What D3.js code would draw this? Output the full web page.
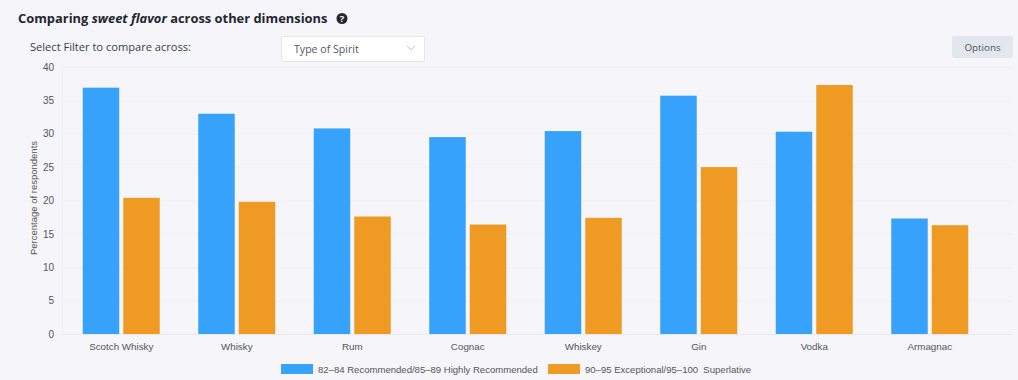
<!DOCTYPE html>
<html>
<head>
<meta charset="utf-8">
<script src="https://cdn.jsdelivr.net/npm/d3@7"></script>
<style>
    html, body { margin: 0; padding: 0; background: #f5f5fa; }
    svg { display: block; }
    .ui { font-family: "Open Sans", sans-serif; }
    .chart-text { font-family: "Liberation Sans", Arial, sans-serif; }
</style>
</head>
<body>
<svg id="svg1" width="1018" height="380"></svg>
<script>
const categories = ['Scotch Whisky', 'Whisky', 'Rum', 'Cognac', 'Whiskey', 'Gin', 'Vodka', 'Armagnac'];
const recommended = [36.9, 33.0, 30.8, 29.5, 30.4, 35.7, 30.3, 17.3];
const exceptional = [20.4, 19.8, 17.6, 16.4, 17.4, 25.0, 37.3, 16.3];
const yTicks = [0, 5, 10, 15, 20, 25, 30, 35, 40];
const seriesNames = ['82–84 Recommended/85–89 Highly Recommended', '90–95 Exceptional/95–100\u00a0 Superlative'];
const seriesColors = ['#36a2fb', '#ef9a22'];

const svg1 = d3.select('#svg1');

const margin = { top: 67, right: 6, bottom: 46, left: 62 };
const width = +svg1.attr('width');
const height = +svg1.attr('height');
const innerWidth = width - margin.left - margin.right;
const innerHeight = height - margin.top - margin.bottom;

const g = svg1.append('g')
    .attr('transform', `translate(${margin.left}, ${margin.top})`);

// the bands stop short of the right end of the grid lines
const x = d3.scaleBand()
    .domain(categories)
    .range([1.5, 925.5]);

const x1 = d3.scaleBand()
    .domain([0, 1])
    .range([x.bandwidth() / 2 - 38.5, x.bandwidth() / 2 + 38.5])
    .paddingInner(0.1);

const y = d3.scaleLinear()
    .domain([0, 40])
    .range([innerHeight, 0]);

// y axis + grid
const yAxis = g.append('g')
    .attr('class', 'chart-text')
    .call(d3.axisLeft(y).tickValues(yTicks).tickSize(-innerWidth).tickPadding(8));
yAxis.select('.domain').attr('stroke', '#f0f0f5').attr('d', `M0.5,0V${innerHeight}`);
yAxis.selectAll('.tick line').attr('stroke', d => d === 0 ? '#e8e9ee' : '#f0f0f5');
yAxis.selectAll('.tick text').attr('fill', '#555').attr('font-size', 10);

// x axis
const xAxis = g.append('g')
    .attr('class', 'chart-text')
    .attr('transform', `translate(0, ${innerHeight})`)
    .call(d3.axisBottom(x).tickSize(0).tickPadding(9));
xAxis.select('.domain').remove();
xAxis.selectAll('.tick text').attr('fill', '#555').attr('font-size', 9.8);

// bars
const groups = g.selectAll('.bar-group')
    .data(categories)
    .enter()
    .append('g')
    .attr('class', 'bar-group')
    .attr('transform', d => `translate(${x(d)}, 0)`);

[recommended, exceptional].forEach((values, s) => {
    groups.append('rect')
        .attr('x', x1(s))
        .attr('y', (d, i) => y(values[i]))
        .attr('width', x1.bandwidth())
        .attr('height', (d, i) => innerHeight - y(values[i]))
        .attr('fill', seriesColors[s]);
});

g.append('text')
    .attr('class', 'chart-text')
    .attr('transform', `translate(-25, ${innerHeight / 2 - 2.5}) rotate(-90)`)
    .attr('text-anchor', 'middle')
    .attr('font-size', 9.5)
    .attr('fill', '#555')
    .text('Percentage of respondents');

// legend
const legendX = [281, 548];
seriesNames.forEach((name, i) => {
    svg1.append('rect')
        .attr('x', legendX[i])
        .attr('y', 364)
        .attr('width', 32)
        .attr('height', 10)
        .attr('fill', seriesColors[i]);
    svg1.append('text')
        .attr('class', 'chart-text')
        .attr('x', legendX[i] + 37)
        .attr('y', 373)
        .attr('font-size', 9.55)
        .attr('fill', '#555')
        .text(name);
});

// header
const title = svg1.append('text')
    .attr('class', 'ui')
    .attr('x', 18)
    .attr('y', 23)
    .attr('font-size', 12.9)
    .attr('font-weight', 700)
    .attr('fill', '#23272e');
title.append('tspan').text('Comparing ');
title.append('tspan').attr('font-style', 'italic').text('sweet flavor');
title.append('tspan').text(' across other dimensions');

svg1.append('circle')
    .attr('cx', 342)
    .attr('cy', 18.5)
    .attr('r', 5.5)
    .attr('fill', '#23272e');
svg1.append('text')
    .attr('class', 'ui')
    .attr('x', 342)
    .attr('y', 22)
    .attr('text-anchor', 'middle')
    .attr('font-size', 9.5)
    .attr('font-weight', 700)
    .attr('fill', '#f5f5fa')
    .text('?');

svg1.append('text')
    .attr('class', 'ui')
    .attr('x', 30)
    .attr('y', 51)
    .attr('font-size', 11.1)
    .attr('fill', '#3a3d44')
    .text('Select Filter to compare across:');

// dropdown
svg1.append('rect')
    .attr('x', 281.5)
    .attr('y', 36.5)
    .attr('width', 143)
    .attr('height', 25)
    .attr('rx', 2)
    .attr('fill', '#fff')
    .attr('stroke', '#e4e5ec');
svg1.append('text')
    .attr('class', 'ui')
    .attr('x', 294)
    .attr('y', 53)
    .attr('font-size', 10.6)
    .attr('fill', '#55585f')
    .text('Type of Spirit');
svg1.append('path')
    .attr('d', 'M407,46L411,50L415,46')
    .attr('fill', 'none')
    .attr('stroke', '#c4c6cc');

// options button
svg1.append('rect')
    .attr('x', 952)
    .attr('y', 36)
    .attr('width', 61)
    .attr('height', 22)
    .attr('rx', 2)
    .attr('fill', '#e3e6ed');
svg1.append('text')
    .attr('class', 'ui')
    .attr('x', 982.5)
    .attr('y', 51)
    .attr('text-anchor', 'middle')
    .attr('font-size', 9.8)
    .attr('fill', '#4e535c')
    .text('Options');
</script>
</body>
</html>
